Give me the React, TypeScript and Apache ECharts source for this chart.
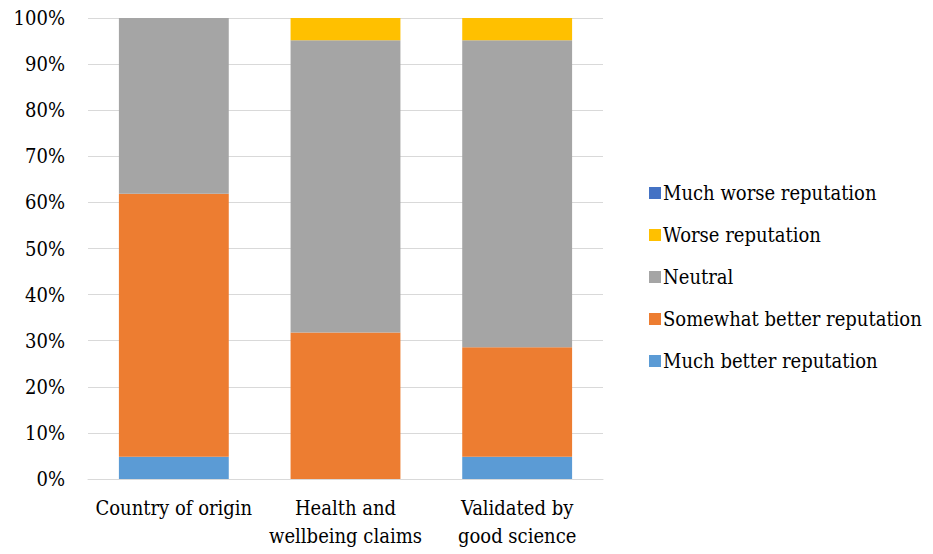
import React, { useEffect, useRef } from "react";
import * as echarts from "echarts";

const categories = ["Country of origin", "Health and\nwellbeing claims", "Validated by\ngood science"];
const muchBetter = [4.8, 0, 4.8];
const somewhatBetter = [57.1, 31.8, 23.8];
const neutral = [38.1, 63.4, 66.6];
const worse = [0, 4.8, 4.8];
const muchWorse = [0, 0, 0];
const legendOrder = [
  "Much worse reputation",
  "Worse reputation",
  "Neutral",
  "Somewhat better reputation",
  "Much better reputation",
];

const FONT = "DejaVu Serif Condensed";

export default function App() {
  const ref = useRef<HTMLDivElement>(null);

  useEffect(() => {
    if (!ref.current) return;
    const chart = echarts.init(ref.current, undefined, { renderer: "svg" });
    const mk = (name: string, data: number[], color: string) => ({
      name,
      type: "bar",
      stack: "total",
      data,
      barWidth: "64%",
      itemStyle: { color },
    });
    chart.setOption({
      animation: false,
      textStyle: { fontFamily: FONT },
      grid: { left: 88, right: 330, top: 18, bottom: 75 },
      legend: {
        orient: "vertical",
        left: 644,
        top: 178,
        itemWidth: 12,
        itemHeight: 12,
        itemGap: 22,
        icon: "rect",
        data: legendOrder,
        textStyle: { fontFamily: FONT, fontSize: 20, color: "#000", padding: [0, 0, 0, -3] },
      },
      xAxis: {
        type: "category",
        data: categories,
        axisTick: { show: false },
        axisLine: { lineStyle: { color: "#d9d9d9", width: 1 } },
        axisLabel: {
          fontFamily: FONT,
          fontSize: 20,
          color: "#000",
          margin: 15,
          lineHeight: 28,
          interval: 0,
        },
      },
      yAxis: {
        type: "value",
        min: 0,
        max: 100,
        interval: 10,
        axisLine: { show: false },
        axisTick: { show: false },
        splitLine: { lineStyle: { color: "#d9d9d9", width: 1 } },
        axisLabel: {
          fontFamily: FONT,
          fontSize: 20,
          color: "#000",
          margin: 23,
          formatter: "{value}%",
        },
      },
      series: [
        mk("Much better reputation", muchBetter, "#5B9BD5"),
        mk("Somewhat better reputation", somewhatBetter, "#ED7D31"),
        mk("Neutral", neutral, "#A5A5A5"),
        mk("Worse reputation", worse, "#FFC000"),
        mk("Much worse reputation", muchWorse, "#4472C4"),
      ],
    });
    return () => chart.dispose();
  }, []);

  return <div ref={ref} style={{ width: 933, height: 554, position: "absolute", left: 0, top: 0 }} />;
}
